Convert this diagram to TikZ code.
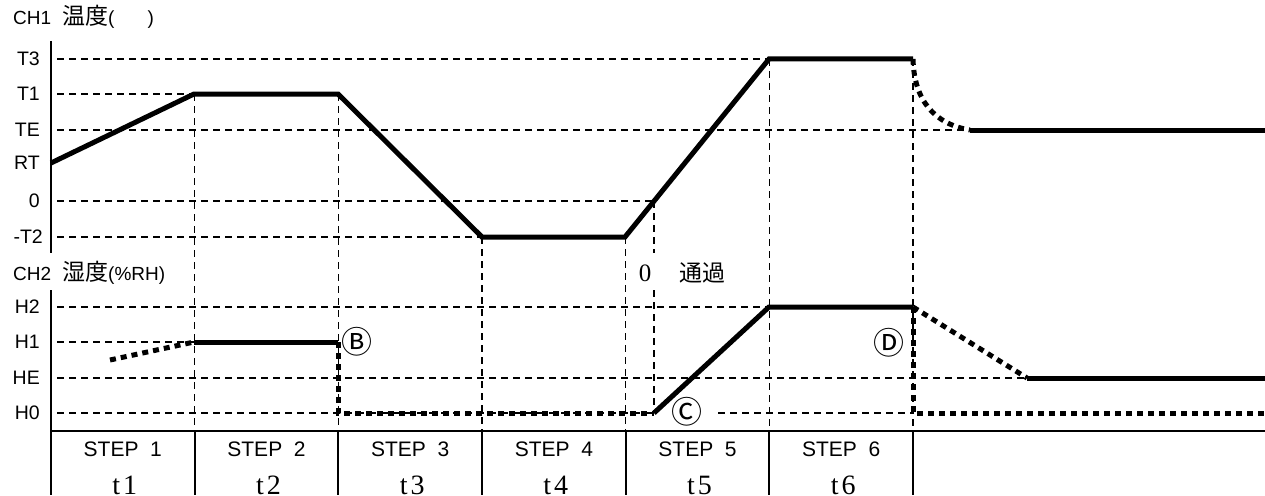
\documentclass[tikz,border=0pt]{standalone}
\usepackage{fontspec}
\setmainfont{Liberation Sans}
\newfontfamily\jpfont{Noto Sans CJK JP}
\newfontfamily\numfont{Liberation Serif}
\usetikzlibrary{calc}
\newcommand{\STEPW}{143.67}
\newcommand{\TABTOP}{431}
\newcommand{\jbig}[1]{{\jpfont\fontsize{23}{23}\selectfont #1}}

\begin{document}
\begin{tikzpicture}[x=1pt,y=-1pt,
    gridline/.style={line width=1.5pt,dash pattern=on 7pt off 5pt},
    thickcurve/.style={line width=5pt},
    dotcurve/.style={line width=5pt,dash pattern=on 6pt off 5pt},
    frame/.style={line width=1.8pt},
    axlbl/.style={font=\fontsize{19.5}{19.5}\selectfont,inner sep=0pt,anchor=east},
    steplbl/.style={font=\fontsize{21}{21}\selectfont,inner sep=0pt},
    tlbl/.style={font=\numfont\fontsize{28}{28}\selectfont,inner sep=0pt,anchor=base},
    circlbl/.style={font=\jpfont\fontsize{31}{31}\selectfont,inner sep=0pt}]

    \useasboundingbox (0,0) rectangle (1265,495);

    % channel titles
    \node[anchor=west,inner sep=0pt,font=\fontsize{19}{19}\selectfont] (ch1) at (13,17) {CH1\hspace{11pt}\jbig{温度}(\hspace{33pt})};
    \node[anchor=west,inner sep=0pt,font=\fontsize{19}{19}\selectfont] (ch2) at (13,273) {CH2\hspace{11pt}\jbig{湿度}(\%RH)};

    % left axis, broken under the CH2 title
    \coordinate (ax0) at (51,41);
    \coordinate (ax1) at (51,253);
    \coordinate (ax2) at (51,290);
    \coordinate (ax3) at (51,495);
    \draw[frame] (ax0) -- (ax1) (ax2) -- (ax3);

    % CH1 levels: name/text/label x/y/end of the dashed line
    \foreach \n/\txt/\x/\y/\xe in {tthree/T3/40/59/769,tone/T1/40/94/194,te/TE/40/130/970,zero/0/40/201/654,ttwo/-T2/43/237/482}{%
      \node[axlbl] (\n) at (\x,\y) {\txt};
      \draw[gridline] (57,\y) -- (\xe,\y);
    }
    \node[axlbl] (rt) at (40,163) {RT};

    % CH2 levels
    \foreach \n/\txt/\y/\xe in {htwo/H2/307/769,hone/H1/342/194,he/HE/378/1027,hzero/H0/413/654}{%
      \node[axlbl] (\n) at (40,\y) {\txt};
      \draw[gridline] (57,\y) -- (\xe,\y);
    }
    \draw[gridline] (718,413) -- (913,413);

    % step boundaries: dashed above the table, solid inside it
    \foreach \i/\ytop in {1/94,2/94,3/237,4/237,5/59,6/59}{%
      \coordinate (top\i) at ({51+\STEPW*\i},\ytop);
      \coordinate (tab\i) at ({51+\STEPW*\i},\TABTOP);
      \coordinate (bot\i) at ({51+\STEPW*\i},495);
      \draw[gridline] (top\i) -- (tab\i);
      \draw[frame] (tab\i) -- (bot\i);
    }
    \draw[frame] (51,\TABTOP) -- (1265,\TABTOP);

    % zero crossing marker
    \draw[gridline] (654,201) -- (654,253) (654,290) -- (654,413);
    \node[font=\numfont\fontsize{25}{25}\selectfont,inner sep=0pt] (zerolbl) at (645,273) {0};
    \node[inner sep=0pt] (passlbl) at (702,273) {\jbig{通過}};

    % CH1 temperature profile
    \foreach \n/\x/\y in {c0/51/163,c1/194/94,c2/338/94,c3/482/237,c4/625/237,c5/769/59,c6/913/59,c7/970/130,c8/1265/130}{%
      \coordinate (\n) at (\x,\y);
    }
    \draw[thickcurve] (c0) -- (c1) -- (c2) -- (c3) -- (c4) -- (c5) -- (c6);
    \draw[dotcurve] (c6) .. controls (914,100) and (934,124) .. (c7);
    \draw[thickcurve] (c7) -- (c8);

    % CH2 humidity profile
    \foreach \n/\x/\y in {h0/110/360,h1/194/342,h2/338/342,h3/338/413,h4/654/413,h5/769/307,h6/913/307,h7/913/413,h8/1265/413,h9/1027/378,h10/1265/378}{%
      \coordinate (\n) at (\x,\y);
    }
    \draw[dotcurve] (h0) -- (h1);
    \draw[thickcurve] (h1) -- (h2);
    \draw[dotcurve] (h2) -- (h3) -- (h4);
    \draw[thickcurve] (h4) -- (h5) -- (h6);
    \draw[dotcurve] (h6) -- (h7) -- (h8);
    \draw[dotcurve] (h6) -- (h9);
    \draw[thickcurve] (h9) -- (h10);

    % marks
    \node[circlbl] (markB) at (357,342) {Ⓑ};
    \node[circlbl] (markC) at (687,412) {Ⓒ};
    \node[circlbl] (markD) at (889,343) {Ⓓ};

    % table rows
    \foreach \i in {1,...,6}{%
      \node[steplbl] (step\i) at ({51+\STEPW*(\i-0.5)},449) {STEP\ \ \i};
      \node[tlbl] (t\i) at ({51+\STEPW*(\i-0.5)+2},494) {t\kern3pt\i};
    }

\end{tikzpicture}
\end{document}
